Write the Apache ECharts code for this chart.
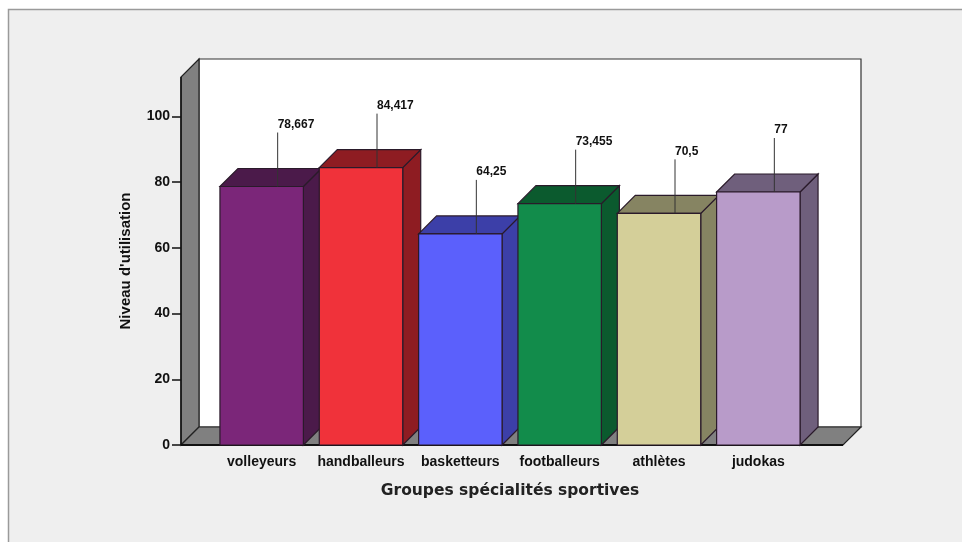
<!DOCTYPE html>
<html>
<head>
<meta charset="utf-8">
<script src="https://cdn.jsdelivr.net/npm/echarts@6/dist/echarts.min.js"></script>
<style>
  html, body { margin: 0; padding: 0; background: #fff; }
  #chart { width: 962px; height: 542px; }
</style>
</head>
<body>
<div id="chart"></div>
<script>
var categories = ["volleyeurs", "handballeurs", "basketteurs", "footballeurs", "athlètes", "judokas"];
var values = [78.667, 84.417, 64.25, 73.455, 70.5, 77];
var yTicks = [0, 20, 40, 60, 80, 100];
var frontColors = ["#7b2679", "#f0323a", "#5b60fc", "#128c4b", "#d4cf99", "#b89bc9"];
var sideColors = ["#4b1a4a", "#8e1c22", "#3c3fa8", "#0b5a2e", "#868462", "#6f5f7c"];

var DEPTH = 18;

function fmt(v) {
    return String(v).replace(".", ",");
}

var chart = echarts.init(document.getElementById("chart"));

var option = {
    backgroundColor: "#ffffff",
    animation: false,
    textStyle: { fontFamily: "Arial, 'Liberation Sans', sans-serif" },
    graphic: [{
        type: "rect",
        z: -10,
        shape: { x: 8.5, y: 9.5, width: 960, height: 540 },
        style: { fill: "#efefef", stroke: "#9a9a9a", lineWidth: 1.5 }
    }],
    grid: { left: 212, right: 154, top: 77, bottom: 97 },
    xAxis: {
        type: "category",
        data: categories,
        axisLine: { show: false },
        axisTick: { alignWithLabel: true, length: 7, lineStyle: { color: "#111", width: 1.5 } },
        axisLabel: { interval: 0, color: "#111", fontWeight: "bold", fontSize: 14, margin: 10 },
        name: "Groupes spécialités sportives",
        nameLocation: "middle",
        nameGap: 38,
        nameTextStyle: { color: "#222", fontWeight: "bold", fontSize: 15.5, fontFamily: "'DejaVu Sans', sans-serif" }
    },
    yAxis: {
        type: "value",
        min: 0,
        max: 112,
        offset: 31,
        splitLine: { show: false },
        axisLine: { show: false },
        axisTick: { show: true, length: 9, customValues: yTicks, lineStyle: { color: "#111", width: 1.5 } },
        axisLabel: { color: "#111", fontWeight: "bold", fontSize: 14, margin: 11, customValues: yTicks },
        name: "Niveau d'utilisation",
        nameLocation: "middle",
        nameGap: 48,
        nameTextStyle: { color: "#111", fontWeight: "bold", fontSize: 15 }
    },
    series: [{
        // back wall, left wall and floor
        type: "custom",
        z: 1,
        silent: true,
        data: [0],
        renderItem: function (params, api) {
            var cs = params.coordSys;
            var yb = api.coord([0, 0])[1];
            var yt = api.coord([0, 112])[1];
            var x0 = cs.x - 31;
            var x1 = cs.x + cs.width + 35;
            var d = DEPTH;
            return {
                type: "group",
                children: [{
                    type: "rect",
                    shape: { x: x0 + d, y: yt - d, width: x1 - x0, height: yb - yt },
                    style: { fill: "#ffffff", stroke: "#333", lineWidth: 1.2 }
                }, {
                    type: "polygon",
                    shape: { points: [[x0, yb], [x0 + d, yb - d], [x0 + d, yt - d], [x0, yt]] },
                    style: { fill: "#808080", stroke: "#222", lineWidth: 1.2 }
                }, {
                    type: "polygon",
                    shape: { points: [[x0, yb], [x1, yb], [x1 + d, yb - d], [x0 + d, yb - d]] },
                    style: { fill: "#808080", stroke: "#222", lineWidth: 1.2 }
                }, {
                    type: "line",
                    shape: { x1: x0, y1: yb, x2: x1, y2: yb },
                    style: { stroke: "#111", lineWidth: 2 }
                }, {
                    type: "line",
                    shape: { x1: x0, y1: yb, x2: x0, y2: yt },
                    style: { stroke: "#111", lineWidth: 1.5 }
                }]
            };
        }
    }, {
        type: "custom",
        z: 2,
        data: values.map(function (v, i) { return [i, v]; }),
        encode: { x: 0, y: 1 },
        renderItem: function (params, api) {
            var i = api.value(0);
            var top = api.coord([i, api.value(1)]);
            var base = api.coord([i, 0]);
            var w = api.size([1, 0])[0] * 0.84;
            var xl = top[0] - w / 2;
            var xr = top[0] + w / 2;
            var yt = top[1];
            var yb = base[1];
            var d = DEPTH;
            var lx = top[0] + 16;
            var ly = yt - 54;
            var st = { stroke: "#2a1a2a", lineWidth: 1.2 };
            return {
                type: "group",
                children: [{
                    type: "polygon",
                    shape: { points: [[xr, yb], [xr + d, yb - d], [xr + d, yt - d], [xr, yt]] },
                    style: Object.assign({ fill: sideColors[i] }, st)
                }, {
                    type: "polygon",
                    shape: { points: [[xl, yt], [xl + d, yt - d], [xr + d, yt - d], [xr, yt]] },
                    style: Object.assign({ fill: sideColors[i] }, st)
                }, {
                    type: "rect",
                    shape: { x: xl, y: yt, width: w, height: yb - yt },
                    style: Object.assign({ fill: frontColors[i] }, st)
                }, {
                    type: "line",
                    shape: { x1: lx, y1: yt, x2: lx, y2: ly },
                    style: { stroke: "#333", lineWidth: 1 }
                }, {
                    type: "text",
                    x: lx,
                    y: ly - 2,
                    style: {
                        text: fmt(values[i]),
                        fill: "#111",
                        font: "bold 12px Arial, 'Liberation Sans', sans-serif",
                        align: "left",
                        verticalAlign: "bottom"
                    }
                }]
            };
        }
    }]
};

chart.setOption(option);
window.addEventListener("resize", chart.resize);
</script>
</body>
</html>
